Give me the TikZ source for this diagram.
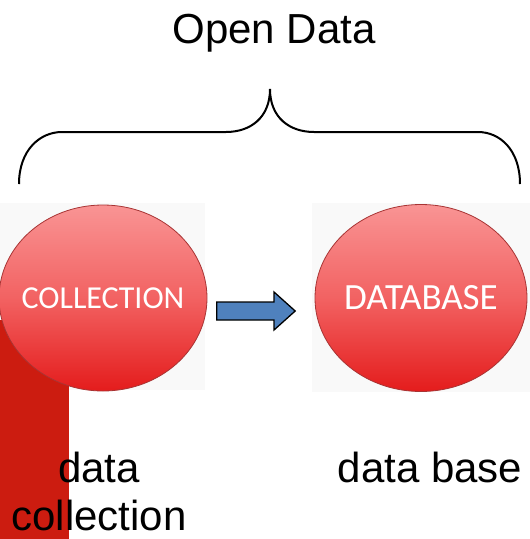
\documentclass[tikz,border=0pt]{standalone}
\usepackage{fontspec}
\setmainfont{Liberation Sans}
\newfontfamily\carl{Carlito}
\usetikzlibrary{shapes.geometric}
\definecolor{barred}{HTML}{CC1C10}
\definecolor{balltop}{HTML}{F99494}
\definecolor{ballmid}{HTML}{F26262}
\definecolor{ballbot}{HTML}{E41C1C}
\definecolor{ballrim}{HTML}{A83434}
\definecolor{arrblue}{HTML}{4F81BD}
\definecolor{faint}{HTML}{F9F9F9}
\tikzset{
  ball/.style={ellipse, draw=ballrim, line width=0.8pt, top color=balltop, bottom color=ballbot, middle color=ballmid, inner sep=0pt},
  balltext/.style={text=white},
  lbl/.style={font=\fontsize{42}{48}\selectfont, anchor=base, inner sep=0pt},
  bracestyle/.style={line width=2pt, black},
}
\begin{document}
\begin{tikzpicture}[x=1pt,y=-1pt]
\useasboundingbox (0,0) rectangle (530,539);
\fill[white] (0,0) rectangle (530,539);
% faint backgrounds
\fill[faint] (0,203) rectangle (205,390);
\fill[faint] (312,203) rectangle (530,392);
% red bar
\fill[barred] (0,320) rectangle (69,539);
% title
\node[lbl] (title) at (274,43) {Open Data};
% brace
\coordinate (bl) at (19,184);
\coordinate (br) at (520,184);
\coordinate (tip) at (270,89);
\draw[bracestyle] (bl) .. controls (19,150) and (40,132) .. (62,132) -- (226,132) .. controls (250,132) and (270,118) .. (tip)
  .. controls (270,118) and (290,132) .. (314,132) -- (478,132) .. controls (500,132) and (520,150) .. (br);
% balls
\node[ball, minimum width=208, minimum height=186] (col) at (103,298) {};
\node[balltext, font=\carl\fontsize{32}{36}\selectfont] (colt) at (col.center) {COLLECTION};
\node[ball, minimum width=212, minimum height=187] (db) at (421,298) {};
\node[balltext, font=\carl\fontsize{37}{40}\selectfont] (dbt) at (db.center) {DATABASE};
% arrow
\node[inner sep=0pt, minimum width=78, minimum height=38] (arr) at (256,311) {};
\draw[fill=arrblue, draw=black, line width=1.3pt, line join=miter]
  (arr.west |- 0,302) -- (274,302) -- (274,292) -- (arr.east) -- (274,330) -- (274,320) -- (arr.west |- 0,320) -- cycle;
% labels
\node[lbl] (l1) at (99,482) {data};
\node[lbl] (l2) at (99,530) {collection};
\node[lbl] (l3) at (430,482) {data base};
\end{tikzpicture}
\end{document}
